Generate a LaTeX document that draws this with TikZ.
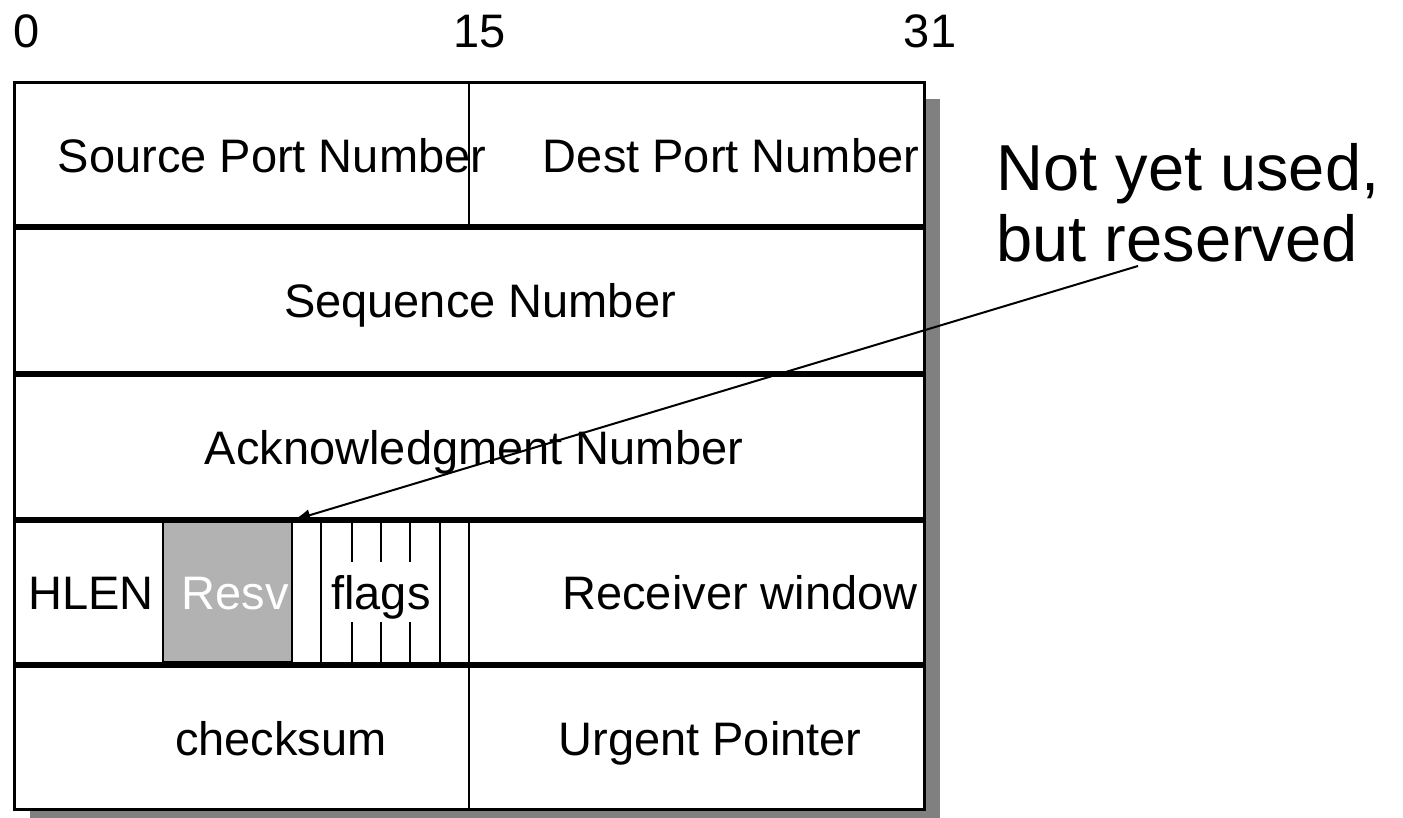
\documentclass[tikz,border=0pt]{standalone}
\usepackage{fontspec}
\setmainfont{Liberation Sans}
\usetikzlibrary{arrows.meta}
\begin{document}
\begin{tikzpicture}[x=0.5pt,y=-0.5pt,
  field/.style={draw=black,line width=1.5pt,fill=white},
  divider/.style={draw=black,line width=1pt},
  flagline/.style={draw=black,line width=0.9pt},
  txt/.style={font=\fontsize{23.5}{28}\selectfont,anchor=base,inner sep=0pt},
  notetxt/.style={font=\fontsize{32.5}{38}\selectfont,anchor=base west,inner sep=0pt},
  resvbox/.style={draw=black,line width=1.4pt,fill=black!30,minimum width=64.5pt,minimum height=70.5pt,inner sep=0pt},
  flagsbg/.style={fill=white,minimum width=57pt,minimum height=30pt,inner sep=0pt},
  pointer/.style={draw=black,line width=1pt,-{Latex[length=8.5pt,width=6pt]}}]
\useasboundingbox (0,0) rectangle (1403,818);

% drop shadow behind the header
\fill[black!50] (30,99) rectangle (940,818);

% one rectangle per 32-bit word
\draw[field] (14,83) rectangle (924,226);
\draw[field] (14,229) rectangle (924,372);
\draw[field] (14,375) rectangle (924,518);
\draw[field] (14,521) rectangle (924,663);
\draw[field] (14,666) rectangle (924,809);

% half-word dividers
\draw[divider] (469,83) -- (469,226);
\draw[divider] (469,521) -- (469,663);
\draw[divider] (469,666) -- (469,809);

% reserved bits
\node[resvbox] (resv) at (227.5,592) {};

% flag bits
\foreach \x in {321,352,381,410,440}
  \draw[flagline] (\x,521) -- (\x,663);
\node[flagsbg] (flagsbg) at (381,592) {};

% bit positions
\node[txt] (bit0) at (27,48) {0};
\node[txt] (bit15) at (480,48) {15};
\node[txt] (bit31) at (930,48) {31};

% field names
\node[txt] (srcport) at (272,173) {Source Port Number};
\node[txt] (dstport) at (731,173) {Dest Port Number};
\node[txt] (seq) at (480,318) {Sequence Number};
\node[txt] (ack) at (474,464) {Acknowledgment Number};
\node[txt] (hlen) at (91,609) {HLEN};
\node[txt,text=white] (resvlbl) at (235,609) {Resv};
\node[txt] (flagslbl) at (381,609) {flags};
\node[txt] (rwnd) at (740,609) {Receiver window};
\node[txt] (cksum) at (281,755) {checksum};
\node[txt] (urg) at (710,755) {Urgent Pointer};

% annotation
\node[notetxt] (note1) at (996,191) {Not yet used,};
\node[notetxt] (note2) at (996,262) {but reserved};
\coordinate (notetail) at (1138,266);
\draw[pointer] (notetail) -- (resv.north east);
\end{tikzpicture}
\end{document}
